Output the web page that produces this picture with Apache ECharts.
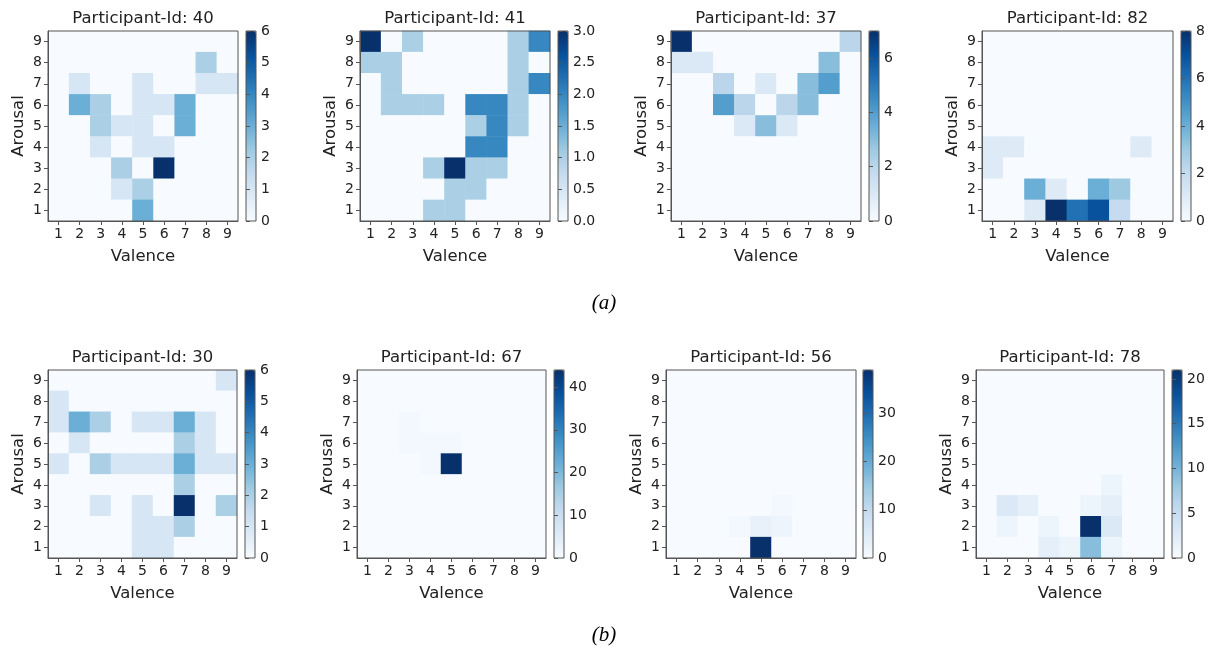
<!DOCTYPE html>
<html>
<head>
<meta charset="utf-8">
<script src="https://cdn.jsdelivr.net/npm/echarts@6/dist/echarts.min.js"></script>
<style>
html,body{margin:0;padding:0;background:#fff;}
#chart{width:1209px;height:650px;}
</style>
</head>
<body>
<div id="chart"></div>
<script>
// Axis categories
const valenceLabels = ['1','2','3','4','5','6','7','8','9'];
const arousalLabels = ['1','2','3','4','5','6','7','8','9'];

// Matrices: rows are arousal 9 (top) down to 1 (bottom), columns valence 1..9
const p40 = [
  [0,0,0,0,0,0,0,0,0],
  [0,0,0,0,0,0,0,2,0],
  [0,1,0,0,1,0,0,1,1],
  [0,3,2,0,1,1,3,0,0],
  [0,0,2,1,1,0,3,0,0],
  [0,0,1,0,1,1,0,0,0],
  [0,0,0,2,0,6,0,0,0],
  [0,0,0,1,2,0,0,0,0],
  [0,0,0,0,3,0,0,0,0]
];
const p41 = [
  [3,0,1,0,0,0,0,1,2],
  [1,1,0,0,0,0,0,1,0],
  [0,1,0,0,0,0,0,1,2],
  [0,1,1,1,0,2,2,1,0],
  [0,0,0,0,0,1,2,1,0],
  [0,0,0,0,0,2,2,0,0],
  [0,0,0,1,3,1,1,0,0],
  [0,0,0,0,1,1,0,0,0],
  [0,0,0,1,1,0,0,0,0]
];
const p37 = [
  [7,0,0,0,0,0,0,0,2],
  [1,1,0,0,0,0,0,3,0],
  [0,0,2,0,1,0,3,4,0],
  [0,0,4,2,0,2,3,0,0],
  [0,0,0,1,3,1,0,0,0],
  [0,0,0,0,0,0,0,0,0],
  [0,0,0,0,0,0,0,0,0],
  [0,0,0,0,0,0,0,0,0],
  [0,0,0,0,0,0,0,0,0]
];
const p82 = [
  [0,0,0,0,0,0,0,0,0],
  [0,0,0,0,0,0,0,0,0],
  [0,0,0,0,0,0,0,0,0],
  [0,0,0,0,0,0,0,0,0],
  [0,0,0,0,0,0,0,0,0],
  [1,1,0,0,0,0,0,1,0],
  [1,0,0,0,0,0,0,0,0],
  [0,0,4,1,0,4,3,0,0],
  [0,0,1,8,6,7,2,0,0]
];
const p30 = [
  [0,0,0,0,0,0,0,0,1],
  [1,0,0,0,0,0,0,0,0],
  [1,3,2,0,1,1,3,1,0],
  [0,1,0,0,0,0,2,1,0],
  [1,0,2,1,1,1,3,1,1],
  [0,0,0,0,0,0,2,0,0],
  [0,0,1,0,1,0,6,0,2],
  [0,0,0,0,1,1,2,0,0],
  [0,0,0,0,1,1,0,0,0]
];
const p67 = [
  [0,0,0,0,0,0,0,0,0],
  [0,0,0,0,0,0,0,0,0],
  [0,0,1,0,0,0,0,0,0],
  [0,0,1,1,1,0,0,0,0],
  [0,0,0,1,44,0,0,0,0],
  [0,0,0,0,0,0,0,0,0],
  [0,0,0,0,0,0,0,0,0],
  [0,0,0,0,0,0,0,0,0],
  [0,0,0,0,0,0,0,0,0]
];
const p56 = [
  [0,0,0,0,0,0,0,0,0],
  [0,0,0,0,0,0,0,0,0],
  [0,0,0,0,0,0,0,0,0],
  [0,0,0,0,0,0,0,0,0],
  [0,0,0,0,0,0,0,0,0],
  [0,0,0,0,0,0,0,0,0],
  [0,0,0,0,0,1,0,0,0],
  [0,0,0,1,3,2,0,0,0],
  [0,0,0,0,39,0,0,0,0]
];
const p78 = [
  [0,0,0,0,0,0,0,0,0],
  [0,0,0,0,0,0,0,0,0],
  [0,0,0,0,0,0,0,0,0],
  [0,0,0,0,0,0,0,0,0],
  [0,0,0,0,0,0,0,0,0],
  [0,0,0,0,0,0,1,0,0],
  [0,3,2,0,0,1,2,0,0],
  [0,1,0,1,0,21,3,0,0],
  [0,0,0,2,1,9,1,0,0]
];

const participantIds = [40, 41, 37, 82, 30, 67, 56, 78];
const matrices = [p40, p41, p37, p82, p30, p67, p56, p78];
const colorMax = [6, 3, 7, 8, 6, 44, 39, 21];
const colorTicks = [
  [0,1,2,3,4,5,6],
  [0,0.5,1,1.5,2,2.5,3],
  [0,2,4,6],
  [0,2,4,6,8],
  [0,1,2,3,4,5,6],
  [0,10,20,30,40],
  [0,10,20,30],
  [0,5,10,15,20]
];
const tickDecimals = [0,1,0,0,0,0,0,0];
const captions = ['(a)', '(b)'];

// matplotlib "Blues"
const blues = ['#f7fbff','#deebf7','#c6dbef','#9ecae1','#6baed6','#4292c6','#2171b5','#08519c','#08306b'];

// Layout (pixel boxes)
const layout = [
  {left:48,  top:31,  w:190, h:190, cb:246},
  {left:360, top:31,  w:190, h:190, cb:558},
  {left:671, top:31,  w:190, h:190, cb:869},
  {left:982, top:31,  w:191, h:190, cb:1181},
  {left:48,  top:370, w:189, h:188, cb:245},
  {left:357, top:370, w:189, h:188, cb:554},
  {left:666, top:370, w:190, h:188, cb:863},
  {left:976, top:370, w:188, h:188, cb:1172}
];

const FONT = 'DejaVu Sans';
const TXT = '#222';
const SPINE = '#555';

const grid = [], xAxis = [], yAxis = [], series = [], visualMap = [], title = [];

matrices.forEach((m, i) => {
  const L = layout[i];
  const data = [];
  m.forEach((row, r) => {
    const a = 8 - r; // arousal index
    row.forEach((v, c) => data.push([c, a, v]));
  });
  // heatmap grid
  grid.push({left:L.left, top:L.top, width:L.w, height:L.h, show:true,
    borderColor:SPINE, borderWidth:1, backgroundColor:'transparent', z:5});
  const gi = grid.length - 1;
  xAxis.push({type:'category', gridIndex:gi, data:valenceLabels, z:6,
    axisLine:{show:true, lineStyle:{color:SPINE, width:1}},
    axisTick:{show:true, alignWithLabel:true, length:4, lineStyle:{color:SPINE}},
    axisLabel:{color:TXT, fontSize:14, fontFamily:FONT, margin:6},
    splitLine:{show:false},
    name:'Valence', nameLocation:'middle', nameGap:27,
    nameTextStyle:{color:TXT, fontSize:16.5, fontFamily:FONT}
  });
  yAxis.push({type:'category', gridIndex:gi, data:arousalLabels, z:6,
    axisLine:{show:true, lineStyle:{color:SPINE, width:1}},
    axisTick:{show:true, alignWithLabel:true, length:4, lineStyle:{color:SPINE}},
    axisLabel:{color:TXT, fontSize:14, fontFamily:FONT, margin:6},
    splitLine:{show:false},
    name:'Arousal', nameLocation:'middle', nameGap:21, nameRotate:90,
    nameTextStyle:{color:TXT, fontSize:16.5, fontFamily:FONT}
  });
  series.push({type:'heatmap', xAxisIndex:gi, yAxisIndex:gi, data:data,
    itemStyle:{borderWidth:0}, emphasis:{disabled:true}, progressive:0});
  visualMap.push({type:'continuous', seriesIndex:series.length-1, dimension:2,
    min:0, max:colorMax[i], calculable:false, hoverLink:false,
    orient:'vertical', left:L.cb, top:L.top, itemWidth:10, itemHeight:L.h,
    padding:0, text:null, inRange:{color:blues}});
  // colorbar axis grid
  grid.push({left:L.cb, top:L.top, width:10, height:L.h, show:true,
    borderColor:SPINE, borderWidth:1, backgroundColor:'transparent', z:8});
  const ci = grid.length - 1;
  const dec = tickDecimals[i];
  xAxis.push({type:'value', gridIndex:ci, show:false, min:0, max:1});
  yAxis.push({type:'value', gridIndex:ci, min:0, max:colorMax[i], position:'right', z:9,
    axisLine:{show:false},
    splitLine:{show:false},
    axisTick:{show:true, inside:false, length:4, lineStyle:{color:SPINE}, customValues:colorTicks[i]},
    axisLabel:{show:true, color:TXT, fontSize:14, fontFamily:FONT, margin:5,
      customValues:colorTicks[i], formatter:(v)=>Number(v).toFixed(dec)}
  });
  title.push({text:'Participant-Id: ' + participantIds[i], left:L.left + L.w/2, top:L.top - 21,
    textAlign:'center', padding:0,
    textStyle:{fontFamily:FONT, fontSize:16.5, fontWeight:'normal', color:TXT}});
});

title.push({text:captions[0], left:604, top:293, textAlign:'center', padding:0,
  textStyle:{fontFamily:'Liberation Serif', fontStyle:'italic', fontWeight:'normal', fontSize:21, color:'#000'}});
title.push({text:captions[1], left:604, top:625, textAlign:'center', padding:0,
  textStyle:{fontFamily:'Liberation Serif', fontStyle:'italic', fontWeight:'normal', fontSize:21, color:'#000'}});

const chart = echarts.init(document.getElementById('chart'), null, {renderer:'canvas'});
chart.setOption({
  animation:false,
  backgroundColor:'#ffffff',
  textStyle:{fontFamily:FONT},
  title, grid, xAxis, yAxis, visualMap, series
});
</script>
</body>
</html>
